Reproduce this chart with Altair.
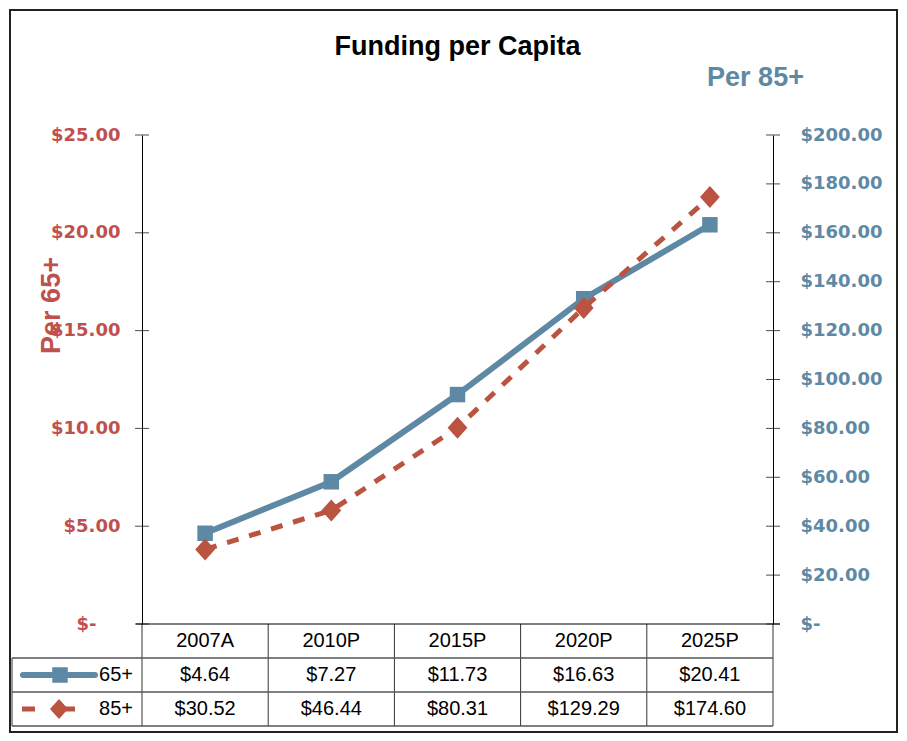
import altair as alt
import pandas as pd

# ---- data ----
categories = ["2007A", "2010P", "2015P", "2020P", "2025P"]
per65 = [4.64, 7.27, 11.73, 16.63, 20.41]
per85 = [30.52, 46.44, 80.31, 129.29, 174.60]
series = ["65+", "85+"]
left_ticks = [0, 5, 10, 15, 20, 25]
right_ticks = [0, 20, 40, 60, 80, 100, 120, 140, 160, 180, 200]

# ---- style ----
BLUE = "#5E89A5"
RED = "#BA5340"
LABEL_RED = "#C0504D"
GRID = "#333333"
W, H = 631, 489
TABLE_H = 102
BOLD_FONT = "DejaVu Sans"
TEXT_FONT = "Liberation Sans"
DIAMOND = "M-0.9,0L0,-1L0.9,0L0,1Z"

df65 = pd.DataFrame({"cat": categories, "v": per65})
df85 = pd.DataFrame({"cat": categories, "v": per85})
dfL = pd.DataFrame({"t": left_ticks})
dfR = pd.DataFrame({"t": right_ticks})

xscale = alt.Scale(type="band", domain=categories, paddingInner=0, paddingOuter=0)
x_mid = alt.X("cat:N", scale=xscale, axis=None, bandPosition=0.5)
x_edge = alt.X("cat:N", scale=xscale, axis=None, bandPosition=0)

yL = alt.Scale(domain=[0, 25], nice=False, zero=True)
yR = alt.Scale(domain=[0, 200], nice=False, zero=True)
ty = alt.Scale(domain=[0, 3], range=[H, H + TABLE_H])

# ---- left (65+) series ----
left_axis = alt.Axis(
    values=left_ticks, ticks=False, grid=False,
    domainColor="black", domainWidth=1,
    labelColor=LABEL_RED, labelFont=BOLD_FONT, labelFontWeight="bold", labelFontSize=18,
    labelPadding={"condition": {"test": "datum.value == 0", "value": 46}, "value": 22},
    labelExpr="datum.value == 0 ? '$-' : '$' + format(datum.value, '.2f')",
    title="Per 65+", titleColor=LABEL_RED, titleFont=TEXT_FONT, titleFontWeight="bold",
    titleFontSize=27, titleAngle=270, titleX=-91, titleY=170,
    titleAlign="center", titleBaseline="middle", orient="left",
)
line65 = alt.Chart(df65).mark_line(color=BLUE, strokeWidth=6).encode(
    x=x_mid, y=alt.Y("v:Q", scale=yL, axis=left_axis))
pts65 = alt.Chart(df65).mark_point(shape="square", filled=True, size=240, color=BLUE, opacity=1).encode(
    x=x_mid, y=alt.Y("v:Q", scale=yL, axis=None))
ticks65 = alt.Chart(dfL).mark_tick(orient="horizontal", size=14, thickness=1, color="black").encode(
    x=alt.value(0), y=alt.Y("t:Q", scale=yL, axis=None))

# ---- right (85+) series ----
right_axis = alt.Axis(
    values=right_ticks, ticks=False, grid=False,
    domainColor="black", domainWidth=1,
    labelColor=BLUE, labelFont=BOLD_FONT, labelFontWeight="bold", labelFontSize=18,
    labelPadding=27, labelAlign="left",
    labelExpr="datum.value == 0 ? '$-' : '$' + format(datum.value, '.2f')",
    title="Per 85+", titleColor=BLUE, titleFont=TEXT_FONT, titleFontWeight="bold",
    titleFontSize=27, titleAngle=0, titleX=-18, titleY=-50,
    titleAlign="center", titleBaseline="alphabetic", orient="right",
)
line85 = alt.Chart(df85).mark_line(color=RED, strokeWidth=5, strokeDash=[12, 11]).encode(
    x=x_mid, y=alt.Y("v:Q", scale=yR, axis=right_axis))
pts85 = alt.Chart(df85).mark_point(shape=DIAMOND, filled=True, size=484, color=RED, opacity=1).encode(
    x=x_mid, y=alt.Y("v:Q", scale=yR, axis=None))
ticks85 = alt.Chart(dfR).mark_tick(orient="horizontal", size=14, thickness=1, color="black").encode(
    x=alt.value(W), y=alt.Y("t:Q", scale=yR, axis=None))

# ---- data table ----
row_of = {"65+": 1.5, "85+": 2.5}
hdr_df = pd.DataFrame({"cat": categories, "r": 0.5})
vals_df = pd.DataFrame({
    "cat": categories * 2,
    "v": per65 + per85,
    "r": [row_of["65+"]] * len(categories) + [row_of["85+"]] * len(categories),
})
ser_df = pd.DataFrame({"s": series, "r": [row_of[s] for s in series]})

hdr = alt.Chart(hdr_df).mark_text(font=TEXT_FONT, fontSize=20, color="black", baseline="middle").encode(
    x=x_mid, y=alt.Y("r:Q", scale=ty, axis=None), text="cat:N")
vals = alt.Chart(vals_df).mark_text(font=TEXT_FONT, fontSize=20, color="black", baseline="middle").encode(
    x=x_mid, y=alt.Y("r:Q", scale=ty, axis=None), text=alt.Text("v:Q", format="$.2f"))
ser_lbl = alt.Chart(ser_df).mark_text(font=TEXT_FONT, fontSize=20, color="black", align="right", baseline="middle").encode(
    x=alt.value(-9), y=alt.Y("r:Q", scale=ty, axis=None), text="s:N")

edges_df = pd.DataFrame({"cat": categories, "r0": 0, "r1": 3})
vlines = alt.Chart(edges_df).mark_rule(color=GRID, strokeWidth=1).encode(
    x=x_edge, y=alt.Y("r0:Q", scale=ty, axis=None), y2="r1:Q")
last_df = pd.DataFrame({"r0": [0], "r1": [3]})
vline_end = alt.Chart(last_df).mark_rule(color=GRID, strokeWidth=1).encode(
    x=alt.value(W), y=alt.Y("r0:Q", scale=ty, axis=None), y2="r1:Q")
leg_df = pd.DataFrame({"r0": [1], "r1": [3]})
vline_leg = alt.Chart(leg_df).mark_rule(color=GRID, strokeWidth=1).encode(
    x=alt.value(-130), y=alt.Y("r0:Q", scale=ty, axis=None), y2="r1:Q")

hline_top = alt.Chart(pd.DataFrame({"r": [0]})).mark_rule(color="black", strokeWidth=1.2).encode(
    x=alt.value(-6), x2=alt.value(W + 7), y=alt.Y("r:Q", scale=ty, axis=None))
hlines = alt.Chart(pd.DataFrame({"r": [1, 2, 3]})).mark_rule(color="#555555", strokeWidth=1.5).encode(
    x=alt.value(-130), x2=alt.value(W), y=alt.Y("r:Q", scale=ty, axis=None))

# legend keys inside the table
s65 = ser_df[ser_df.s == "65+"]
s85 = ser_df[ser_df.s == "85+"]
key65_line = alt.Chart(s65).mark_rule(color=BLUE, strokeWidth=6, strokeCap="round").encode(
    x=alt.value(-119), x2=alt.value(-47), y=alt.Y("r:Q", scale=ty, axis=None))
key65_pt = alt.Chart(s65).mark_point(shape="square", filled=True, size=240, color=BLUE, opacity=1).encode(
    x=alt.value(-82), y=alt.Y("r:Q", scale=ty, axis=None))
key85_line = alt.Chart(s85).mark_rule(color=RED, strokeWidth=5, strokeDash=[13, 17, 23, 17]).encode(
    x=alt.value(-120), x2=alt.value(-67), y=alt.Y("r:Q", scale=ty, axis=None))
key85_pt = alt.Chart(s85).mark_point(shape=DIAMOND, filled=True, size=400, color=RED, opacity=1).encode(
    x=alt.value(-83), y=alt.Y("r:Q", scale=ty, axis=None))

frame = alt.Chart(last_df).mark_rect(fill="transparent", stroke="#222222", strokeWidth=2).encode(
    x=alt.value(-132), x2=alt.value(W + 124), y=alt.value(-125), y2=alt.value(H + 108))

chart = alt.layer(
    line65, pts65, ticks65,
    line85, pts85, ticks85,
    vlines, vline_end, vline_leg, hline_top, hlines, hdr, vals, ser_lbl,
    key65_line, key65_pt, key85_line, key85_pt, frame,
).resolve_scale(y="independent").properties(
    width=W, height=H,
    background="white",
    autosize=alt.AutoSizeParams(type="none"),
    padding={"left": 134, "top": 127, "right": 126, "bottom": 110},
    title=alt.TitleParams(
        text="Funding per Capita", anchor="middle", frame="group",
        font=TEXT_FONT, fontSize=27, fontWeight="bold", color="black",
        baseline="alphabetic", offset=0, dy=73,
    ),
).configure_view(stroke=None)

chart.save("out.html", embed_options={"renderer": "svg", "actions": False})
